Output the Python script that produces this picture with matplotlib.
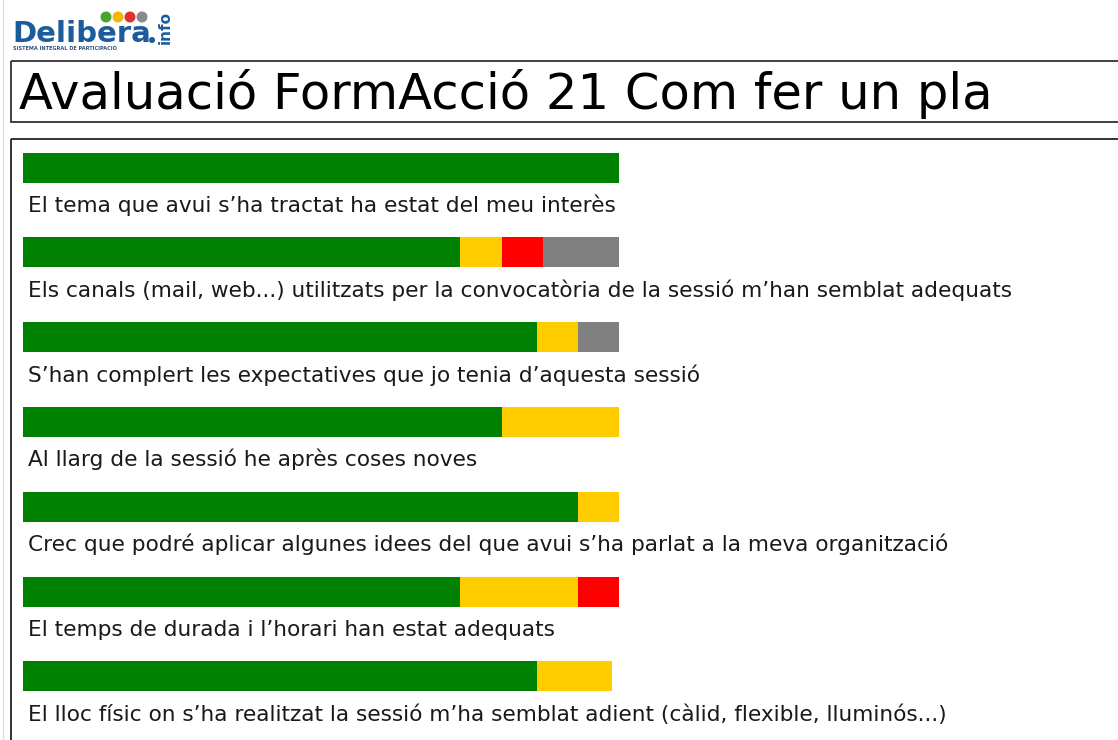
import numpy as np
import matplotlib
matplotlib.use('Agg')
import matplotlib.pyplot as plt
from matplotlib.patches import Rectangle, Circle

# data: share of answers per question (percent of bar)
questions = [
    "El tema que avui s\u2019ha tractat ha estat del meu interès",
    "Els canals (mail, web...) utilitzats per la convocatòria de la sessió m\u2019han semblat adequats",
    "S\u2019han complert les expectatives que jo tenia d\u2019aquesta sessió",
    "Al llarg de la sessió he après coses noves",
    "Crec que podré aplicar algunes idees del que avui s\u2019ha parlat a la meva organització",
    "El temps de durada i l\u2019horari han estat adequats",
    "El lloc físic on s\u2019ha realitzat la sessió m\u2019ha semblat adient (càlid, flexible, lluminós...)",
]
green = [100.0, 73.4, 86.2, 80.4, 93.1, 73.4, 86.2]
yellow = [0.0, 6.9, 6.9, 19.6, 6.9, 19.7, 12.6]
red = [0.0, 6.9, 0.0, 0.0, 0.0, 6.9, 0.0]
grey = [0.0, 12.8, 6.9, 0.0, 0.0, 0.0, 0.0]
colors = ["#008000", "#ffcc00", "#ff0000", "#808080"]

title = "Avaluació FormAcció 21 Com fer un pla"

W, H = 1118, 740
fig = plt.figure(figsize=(W / 100, H / 100), dpi=100)

# background frame in pixel units
frame = fig.add_axes([0, 0, 1, 1])
frame.set_xlim(0, W)
frame.set_ylim(H, 0)
frame.axis('off')

frame.plot([3, 3], [0, H], color="#dddddd", lw=1)
frame.add_patch(Rectangle((10.5, 60.5), W, 61, fill=False, ec="#333333", lw=1.3))
frame.add_patch(Rectangle((10.5, 138.5), W, H, fill=False, ec="#222222", lw=1.3))
frame.text(19, 109, title, fontsize=35.7, color="black", va="baseline", ha="left",
           family="DejaVu Sans")

# logo
blue = "#1d5c9c"
frame.text(12, 42, "Delibera", fontsize=21, fontweight="bold", color=blue, va="baseline", ha="left")
for cx, c in zip([106, 118, 130, 142], ["#4aa232", "#f2b705", "#e03030", "#8a8a8a"]):
    frame.add_patch(Circle((cx, 17), 4.8, color=c))
frame.add_patch(Circle((152, 40), 2.3, color=blue))
frame.text(165, 27, "info", fontsize=11, fontweight="bold", color=blue, rotation=90,
           va="center", ha="center")
frame.text(13, 49, "SISTEMA INTEGRAL DE PARTICIPACIÓ", fontsize=3.6, fontweight="bold",
           color="#33507a", va="center", ha="left")

# bars axes: x 0-100 spans pixels 23..619
ax = fig.add_axes([23 / W, 0, 596 / W, 1])
ax.set_xlim(0, 100)
row0, step = 167.5, 84.8
ax.set_ylim((H - row0) / step, -row0 / step)
ax.axis('off')
ax.patch.set_alpha(0)

y = np.arange(len(questions))
left = np.zeros(len(questions))
for vals, c in zip([green, yellow, red, grey], colors):
    ax.barh(y, vals, left=left, height=30 / step, color=c, lw=0)
    left += np.array(vals)

for i, q in enumerate(questions):
    ax.text(0.8, i + 44.5 / step, q, fontsize=15.6, color="#1a1a1a", va="baseline", ha="left",
            clip_on=False)

fig.savefig("out.png", dpi=100)
